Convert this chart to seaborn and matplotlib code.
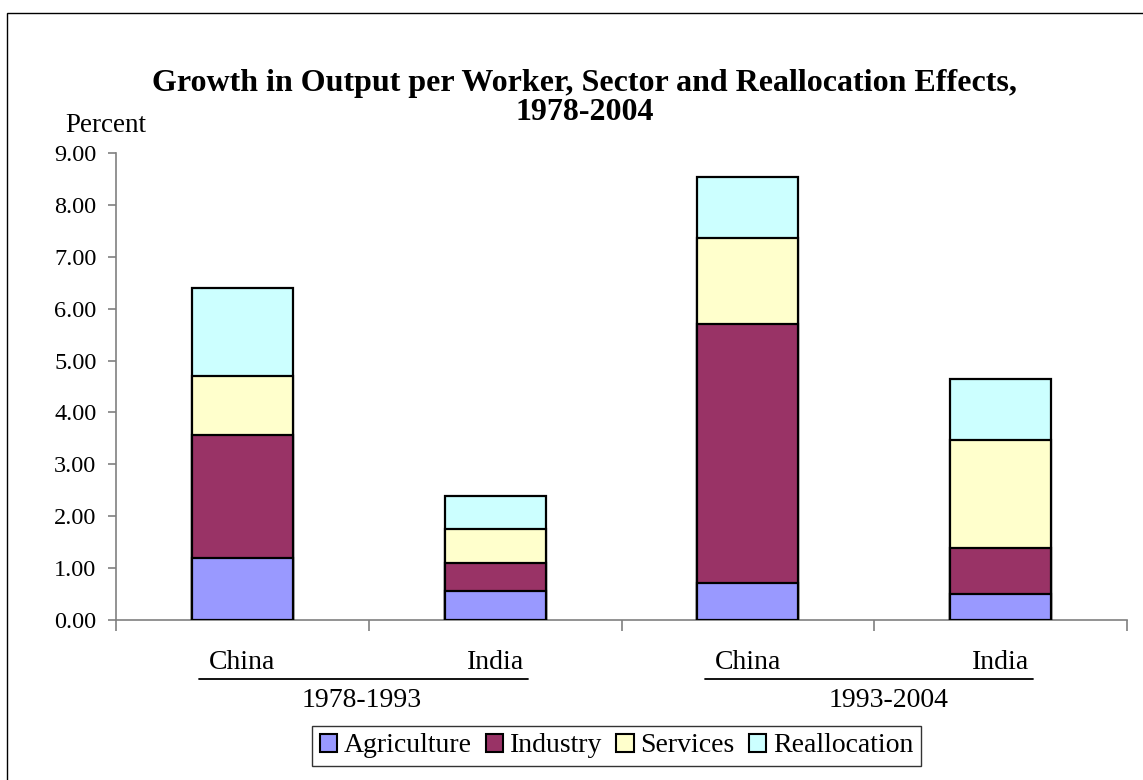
import matplotlib
matplotlib.use("Agg")
import matplotlib.pyplot as plt
from matplotlib.patches import Patch, Rectangle
from matplotlib.lines import Line2D
import seaborn as sns
import pandas as pd
import numpy as np

# ---- data ----
countries = ["China", "India", "China", "India"]
periods = ["1978-1993", "1978-1993", "1993-2004", "1993-2004"]
sectors = ["Agriculture", "Industry", "Services", "Reallocation"]
agriculture = [1.20, 0.56, 0.72, 0.50]
industry = [2.37, 0.53, 4.98, 0.89]
services = [1.13, 0.66, 1.66, 2.07]
reallocation = [1.70, 0.64, 1.17, 1.18]
colors = ["#9999FF", "#993366", "#FFFFCC", "#CCFFFF"]
yticks = [0, 1, 2, 3, 4, 5, 6, 7, 8, 9]
group_names = ["1978-1993", "1993-2004"]

sns.set_theme(style="white")
plt.rcParams["font.family"] = ["Liberation Serif", "DejaVu Serif"]
plt.rcParams["text.color"] = "black"
plt.rcParams["axes.labelcolor"] = "black"
plt.rcParams["xtick.labelcolor"] = "black"
plt.rcParams["ytick.labelcolor"] = "black"

keys = [f"{c} {p}" for c, p in zip(countries, periods)]
series = [agriculture, industry, services, reallocation]
cum = np.cumsum(np.array(series), axis=0)

fig = plt.figure(figsize=(11.43, 7.80), dpi=100)
ax = fig.add_axes([116 / 1143, 1 - 620 / 780, (1127 - 116) / 1143, (620 - 153) / 780])

for i in range(len(sectors) - 1, -1, -1):
    df = pd.DataFrame({"key": keys, "value": cum[i]})
    sns.barplot(data=df, x="key", y="value", order=keys, color=colors[i],
                width=0.4, edgecolor="black", linewidth=1.6, saturation=1,
                ax=ax, zorder=2 + (len(sectors) - i))

ax.set_xlim(-0.5, 3.5)
ax.set_ylim(0, 9)
ax.set_yticks(yticks)
ax.set_yticklabels([f"{v:.2f}" for v in yticks], fontsize=17.5, color="black")
ax.set_xticks([-0.5, 0.5, 1.5, 2.5, 3.5])
ax.set_xticklabels([])
ax.set_xlabel("")
ax.set_ylabel("")
for s in ["top", "right"]:
    ax.spines[s].set_visible(False)
for s in ["left", "bottom"]:
    ax.spines[s].set_color("#808080")
    ax.spines[s].set_linewidth(1.2)
ax.tick_params(axis="y", direction="out", length=6, width=1.2, color="#808080",
               labelcolor="black", left=True, pad=8)
ax.tick_params(axis="x", direction="out", length=8, width=1.2, color="#808080", bottom=True)
ax.grid(False)

trans = ax.get_xaxis_transform()
for j, c in enumerate(countries):
    ax.text(j, -0.09, c, transform=trans, ha="center", va="center", fontsize=20,
            color="black", clip_on=False)
group_x = [0.473, 2.558]
for g, name in enumerate(group_names):
    x0, x1 = 2 * g - 0.17, 2 * g + 1.13
    ax.add_line(Line2D([x0, x1], [-0.126, -0.126], transform=trans, color="black",
                       linewidth=1.3, clip_on=False))
    ax.text(group_x[g], -0.173, name, transform=trans, ha="center", va="center",
            fontsize=20, color="black", clip_on=False)

handles = [Patch(facecolor=col, edgecolor="black", linewidth=1.5, label=s)
           for s, col in zip(sectors, colors)]
leg = fig.legend(handles=handles, loc="center", bbox_to_anchor=(616.5 / 1143, 1 - 746 / 780),
                 ncol=4, fontsize=20, frameon=True, fancybox=False, handlelength=0.62,
                 handleheight=0.62, handletextpad=0.25, columnspacing=0.5, borderpad=0.28,
                 borderaxespad=0, labelcolor="black")
leg.get_frame().set_edgecolor("black")
leg.get_frame().set_linewidth(1.0)

fig.text(585 / 1143, 1 - 98 / 780,
         "Growth in Output per Worker, Sector and Reallocation Effects,\n1978-2004",
         ha="center", va="center", fontsize=23, fontweight="bold", linespacing=1.02,
         color="black")
fig.text(65 / 1143, 1 - 125 / 780, "Percent", ha="left", va="center", fontsize=19.5,
         color="black")

fig.patches.append(Rectangle((7 / 1143, -0.1), 2, 1 - 13 / 780 + 0.1, transform=fig.transFigure,
                             fill=False, edgecolor="black", linewidth=1.0))

fig.savefig("out.png", dpi=100)
